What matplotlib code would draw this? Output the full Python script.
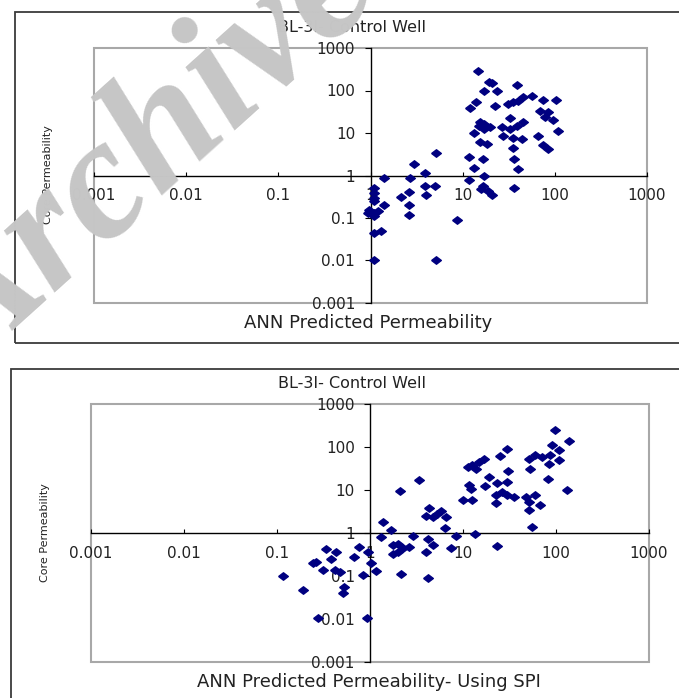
import matplotlib as mpl
mpl.use('Agg')
import matplotlib.pyplot as plt
from matplotlib.patches import Rectangle
from matplotlib.ticker import NullLocator

W, H = 679, 698

# BL-3I control well, ANN predicted vs core permeability
top_x = [14.5, 19.1, 16.9, 14, 12.1, 15.5, 15, 17, 13.2, 16.9, 20, 15.5, 18.3,
         5.1, 11.6, 16.6, 2.97, 13.2, 3.9, 1.41, 2.69, 11.6, 16.9, 16.5, 19, 15.8,
         3.87, 5.0, 2.63, 2.13, 3.97, 2.63, 2.63, 8.7, 5.1,
         1.1, 1.1, 1.1, 1.1, 1.41, 0.96, 0.93, 1.1, 1.1, 1.2, 1.1, 1.3, 1.1,
         20.8, 23.4, 39, 22.4, 31.4, 35.5, 40.3, 45.6, 56, 75, 104, 69, 85, 78,
         96, 109, 32.7, 45.6, 26.6, 32.7, 38.6, 27.5, 35.5, 43.8, 66, 74, 85,
         35.5, 36, 40.3, 36, 20.8]
top_y = [288, 158, 100, 55, 38, 17.8, 14.5, 16, 10, 12.3, 13.5, 6.2, 5.4,
         3.45, 2.7, 2.5, 1.82, 1.47, 1.16, 0.85, 0.88, 0.78, 0.96, 0.56, 0.43, 0.48,
         0.56, 0.56, 0.40, 0.32, 0.34, 0.2, 0.119, 0.091, 0.01,
         0.51, 0.39, 0.30, 0.25, 0.2, 0.156, 0.13, 0.13, 0.11, 0.15, 0.044, 0.05, 0.01,
         152, 100, 132, 44, 48, 52.5, 58, 69.5, 73.5, 61, 61, 33.6, 31.7, 23.3,
         20, 11.2, 22, 17.8, 13.5, 12.3, 14.8, 8.6, 7.8, 7.4, 8.6, 5.1, 4.1,
         4.5, 2.4, 1.44, 0.51, 0.35]

# same well, ANN with SPI
bot_x = [1.37, 1.69, 1.32, 0.77, 0.95, 0.68, 0.34, 0.43, 0.38, 0.265, 0.245, 1.03,
         0.31, 0.42, 0.47, 1.16, 0.84, 0.115, 0.19, 0.53, 0.51, 0.275, 0.93,
         30, 24.8, 16.9, 14.9, 12.6, 11.2, 13.7, 30.7, 19, 11.6, 12.1, 17.3, 23.4,
         30, 26.4, 22.4, 30, 35.3, 22.4, 9.9, 12.6, 3.33, 2.12, 4.34, 4.0, 4.7,
         5.3, 6.5, 5.8, 6.4, 2.88, 4.17, 8.4, 13.5, 1.76, 2.0, 2.25, 2.65, 1.76,
         2.0, 4.7, 4.0, 7.4, 23.4, 2.16, 4.17,
         97, 137, 89.5, 107, 51, 60, 71, 87, 107, 84, 53, 82, 132, 47, 60, 51,
         68, 51, 54.7]
bot_y = [1.77, 1.15, 0.81, 0.47, 0.355, 0.275, 0.42, 0.355, 0.25, 0.21, 0.2, 0.2,
         0.135, 0.14, 0.121, 0.128, 0.107, 0.101, 0.048, 0.055, 0.04, 0.0105, 0.0105,
         92, 61, 54, 45, 37.7, 34.4, 31.6, 27.8, 20, 12.9, 10.8, 12.2, 14.6,
         15.4, 9.0, 7.5, 7.5, 6.9, 5.0, 5.8, 5.8, 16.9, 9.5, 3.8, 2.45, 2.35,
         2.7, 2.35, 3.2, 1.31, 0.84, 0.74, 0.84, 0.96, 0.52, 0.56, 0.455, 0.47, 0.33,
         0.36, 0.52, 0.36, 0.45, 0.49, 0.109, 0.091,
         255, 137, 114, 87, 54, 64.5, 59, 66, 51, 41, 31.4, 18.4, 10.2, 6.7, 7.5, 5.3,
         4.4, 3.5, 1.38]

ticks = [0.001, 0.01, 0.1, 1, 10, 100, 1000]
tick_labels = ['0.001', '0.01', '0.1', '1', '10', '100', '1000']

title = 'BL-3I- Control Well'
xlabels = ['ANN Predicted Permeability', 'ANN Predicted Permeability- Using SPI']
ylabel = 'Core Permeability'

diamond = [(-1.3, 0), (0, 1), (1.3, 0), (0, -1), (-1.3, 0)]


def fx(x):
    return x / W


def fy(y):
    return 1 - y / H


fig = plt.figure(figsize=(W / 100, H / 100), dpi=100)

# chart area borders
fig.patches.append(Rectangle((fx(15), fy(343)), (700 - 15) / W, 331 / H,
                             transform=fig.transFigure, fill=False,
                             ec='#3a3a3a', lw=1.3))
fig.patches.append(Rectangle((fx(11), fy(720)), (700 - 11) / W, 351 / H,
                             transform=fig.transFigure, fill=False,
                             ec='#3a3a3a', lw=1.3))

boxes = [(94, 48, 647, 303), (91, 404, 649, 662)]
data = [(top_x, top_y), (bot_x, bot_y)]
titles_y = [28, 383]
xlab_pos = [(368, 323), (369, 682)]
ylab_pos = [(48, 175), (45, 533)]

for i in range(2):
    l, t, r, b = boxes[i]
    ax = fig.add_axes([fx(l), fy(b), (r - l) / W, (b - t) / H])
    ax.set_xscale('log')
    ax.set_yscale('log')
    ax.set_xlim(1e-3, 1e3)
    ax.set_ylim(1e-3, 1e3)
    for s in ['top', 'right']:
        ax.spines[s].set_visible(False)
    for s in ['left', 'bottom']:
        ax.spines[s].set_position(('data', 1))
        ax.spines[s].set_linewidth(1.0)
    ax.add_patch(Rectangle((0, 0), 1, 1, transform=ax.transAxes, fill=False,
                           ec='#a8a8a8', lw=1.5, clip_on=False, zorder=0.5))
    ax.set_xticks(ticks, tick_labels)
    ax.set_yticks(ticks, tick_labels)
    ax.xaxis.set_minor_locator(NullLocator())
    ax.yaxis.set_minor_locator(NullLocator())
    ax.tick_params(axis='x', direction='in', length=3, pad=9, labelsize=11,
                   labelcolor='#222222')
    ax.tick_params(axis='y', direction='out', length=4, pad=7, labelsize=11,
                   labelcolor='#222222')
    ax.patch.set_alpha(0)
    xs, ys = data[i]
    ax.plot(xs, ys, linestyle='none', marker=diamond, markersize=7,
            color='#000080', mec='#000080', clip_on=False, zorder=3)

    fig.text(fx(352), fy(titles_y[i]), title, ha='center', va='center',
             fontsize=11.5, color='#222222')
    fig.text(fx(xlab_pos[i][0]), fy(xlab_pos[i][1]), xlabels[i], ha='center',
             va='center', fontsize=13, color='#222222')
    fig.text(fx(ylab_pos[i][0]), fy(ylab_pos[i][1]), ylabel, ha='center',
             va='center', rotation=90, fontsize=8, color='#222222')

# watermark
fig.text(fx(-30), fy(378), 'Archive', family='Liberation Serif',
         weight='bold', style='italic', fontsize=125, color='#c6c6c6',
         rotation=42, rotation_mode='anchor', ha='left', va='baseline',
         zorder=10)

fig.savefig('out.png', dpi=100)
